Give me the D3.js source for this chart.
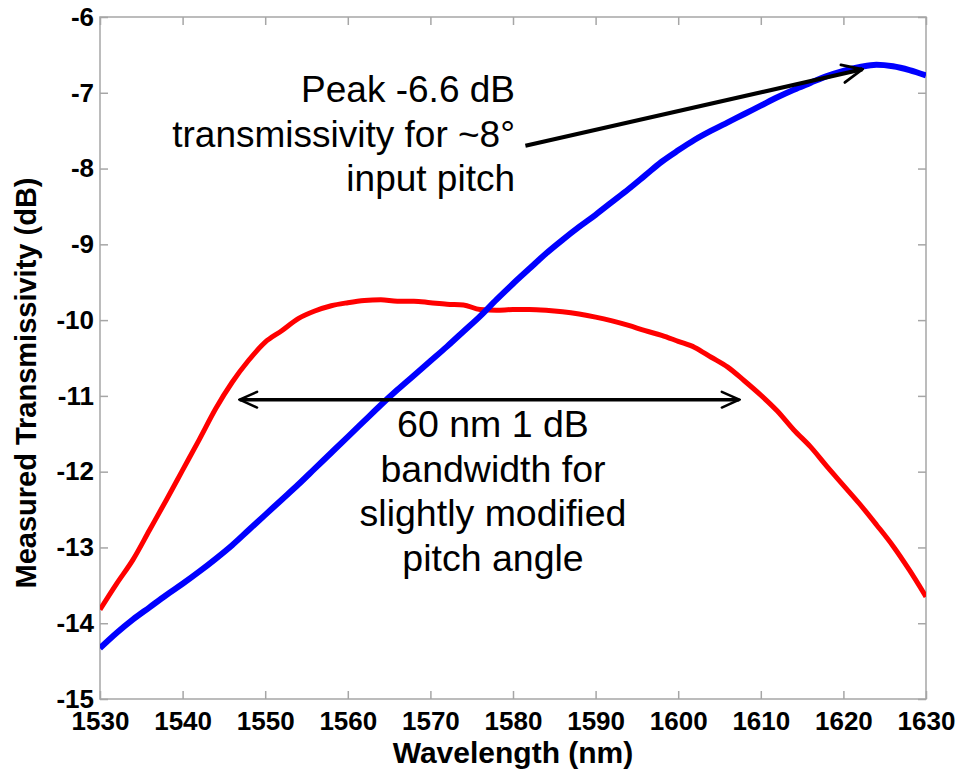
<!DOCTYPE html>
<html>
<head>
<meta charset="utf-8">
<script src="https://cdn.jsdelivr.net/npm/d3@7"></script>
<style>
  html, body { margin: 0; padding: 0; background: #fff; }
  svg text { font-family: Arial, "Liberation Sans", sans-serif; }
</style>
</head>
<body>
<svg id="chart" width="960" height="774"></svg>
<script>
// ---- data ----
const wavelengths = [1530,1532,1534,1536,1538,1540,1542,1544,1546,1548,1550,1552,1554,1556,1558,1560,1562,1564,1566,1568,1570,1572,1574,1576,1578,1580,1582,1584,1586,1588,1590,1592,1594,1596,1598,1600,1602,1604,1606,1608,1610,1612,1614,1616,1618,1620,1622,1624,1626,1628,1630];
const redSeries = [-13.82,-13.48,-13.16,-12.77,-12.38,-11.98,-11.58,-11.17,-10.82,-10.53,-10.29,-10.14,-9.98,-9.88,-9.81,-9.77,-9.74,-9.73,-9.75,-9.75,-9.77,-9.79,-9.80,-9.86,-9.87,-9.86,-9.86,-9.87,-9.89,-9.92,-9.96,-10.01,-10.07,-10.14,-10.20,-10.28,-10.36,-10.49,-10.62,-10.80,-10.99,-11.20,-11.45,-11.67,-11.93,-12.18,-12.43,-12.70,-12.98,-13.30,-13.65];
const blueSeries = [-14.33,-14.13,-13.95,-13.79,-13.63,-13.48,-13.32,-13.15,-12.97,-12.77,-12.57,-12.37,-12.17,-11.96,-11.75,-11.54,-11.33,-11.12,-10.92,-10.73,-10.54,-10.35,-10.15,-9.95,-9.73,-9.52,-9.32,-9.12,-8.94,-8.77,-8.61,-8.44,-8.27,-8.09,-7.91,-7.76,-7.62,-7.50,-7.39,-7.28,-7.17,-7.06,-6.96,-6.87,-6.78,-6.71,-6.66,-6.63,-6.65,-6.70,-6.77];
const xTicks = [1530,1540,1550,1560,1570,1580,1590,1600,1610,1620,1630];
const yTicks = [-6,-7,-8,-9,-10,-11,-12,-13,-14,-15];
const xLabel = "Wavelength (nm)";
const yLabel = "Measured Transmissivity (dB)";
// annotation arrows in data coordinates [wavelength, dB]
const peakArrow = [[1581.5,-7.70],[1622.3,-6.69]];
const bandwidthArrow = [[1546.9,-11.05],[1607.4,-11.05]];
const peakText = ["Peak -6.6 dB","transmissivity for ~8°","input pitch"];
const bandwidthText = ["60 nm 1 dB","bandwidth for","slightly modified","pitch angle"];

// ---- layout ----
const svg = d3.select("#chart");
const margin = {left: 100, top: 17, right: 926, bottom: 699};
const x = d3.scaleLinear().domain([1530,1630]).range([margin.left, margin.right]);
const y = d3.scaleLinear().domain([-15,-6]).range([margin.bottom, margin.top]);
const axisColor = "#a6a6a6";
const fmt = d => String(d);

// frame
svg.append("rect")
  .attr("x", margin.left).attr("y", margin.top)
  .attr("width", margin.right - margin.left).attr("height", margin.bottom - margin.top)
  .attr("fill", "none").attr("stroke", axisColor).attr("stroke-width", 1.5);

function styleAxis(g) {
  g.select(".domain").remove();
  g.selectAll(".tick line").attr("stroke", axisColor).attr("stroke-width", 1.5);
}
// bottom axis with labels (ticks inward)
svg.append("g").attr("transform", `translate(0,${margin.bottom})`)
  .call(d3.axisBottom(x).tickValues(xTicks).tickFormat(fmt).tickSizeInner(-8).tickPadding(13))
  .call(styleAxis)
  .call(g => g.selectAll(".tick text").attr("font-size", 26).attr("font-weight", "bold").attr("fill", "#000"));
// top axis ticks only
svg.append("g").attr("transform", `translate(0,${margin.top})`)
  .call(d3.axisTop(x).tickValues(xTicks).tickFormat("").tickSizeInner(-8))
  .call(styleAxis);
// left axis
svg.append("g").attr("transform", `translate(${margin.left},0)`)
  .call(d3.axisLeft(y).tickValues(yTicks).tickFormat(fmt).tickSizeInner(-8).tickPadding(8))
  .call(styleAxis)
  .call(g => g.selectAll(".tick text").attr("font-size", 26).attr("font-weight", "bold").attr("fill", "#000")
      .attr("x", -6));
// right axis ticks only
svg.append("g").attr("transform", `translate(${margin.right},0)`)
  .call(d3.axisRight(y).tickValues(yTicks).tickFormat("").tickSizeInner(-8))
  .call(styleAxis);

// axis titles
svg.append("text").attr("x", 513).attr("y", 763)
  .attr("text-anchor", "middle").attr("font-size", 30).attr("font-weight", "bold").text(xLabel);
svg.append("text").attr("transform", `translate(36,${383}) rotate(-90)`)
  .attr("text-anchor", "middle").attr("font-size", 29).attr("font-weight", "bold").text(yLabel);

// series
const line = d3.line().x((d,i) => x(wavelengths[i])).y(d => y(d)).curve(d3.curveMonotoneX);
svg.append("clipPath").attr("id", "plotclip").append("rect")
  .attr("x", margin.left).attr("y", margin.top)
  .attr("width", margin.right - margin.left).attr("height", margin.bottom - margin.top);
const plot = svg.append("g").attr("clip-path", "url(#plotclip)");
plot.append("path").datum(redSeries).attr("d", line)
  .attr("fill", "none").attr("stroke", "#ff0000").attr("stroke-width", 5).attr("stroke-linejoin", "round");
plot.append("path").datum(blueSeries).attr("d", line)
  .attr("fill", "none").attr("stroke", "#0000ff").attr("stroke-width", 6).attr("stroke-linejoin", "round");

// arrowheads (open chevrons)
const defs = svg.append("defs");
defs.append("marker").attr("id", "head").attr("viewBox", "0 0 12 12")
  .attr("refX", 11).attr("refY", 6).attr("markerWidth", 6).attr("markerHeight", 6)
  .attr("orient", "auto-start-reverse").attr("markerUnits", "strokeWidth")
  .append("path").attr("d", "M1,1.5 L11,6 L1,10.5").attr("fill", "none").attr("stroke", "#000").attr("stroke-width", 1.4)
  .attr("stroke-linecap", "round");

svg.append("line")
  .attr("x1", x(peakArrow[0][0])).attr("y1", y(peakArrow[0][1]))
  .attr("x2", x(peakArrow[1][0])).attr("y2", y(peakArrow[1][1]))
  .attr("stroke", "#000").attr("stroke-width", 4).attr("marker-end", "url(#head)");
svg.append("line")
  .attr("x1", x(bandwidthArrow[0][0])).attr("y1", y(bandwidthArrow[0][1]))
  .attr("x2", x(bandwidthArrow[1][0])).attr("y2", y(bandwidthArrow[1][1]))
  .attr("stroke", "#000").attr("stroke-width", 3.5)
  .attr("marker-start", "url(#head)").attr("marker-end", "url(#head)");

// annotation texts
svg.append("g").selectAll("text").data(peakText).join("text")
  .attr("x", 515).attr("y", (d,i) => 102 + i * 44.5)
  .attr("text-anchor", "end").attr("font-size", 37).attr("fill", "#000").text(d => d);
svg.append("g").selectAll("text").data(bandwidthText).join("text")
  .attr("x", 493).attr("y", (d,i) => 437 + i * 44.5)
  .attr("text-anchor", "middle").attr("font-size", 37.5).attr("fill", "#000").text(d => d);
</script>
</body>
</html>
